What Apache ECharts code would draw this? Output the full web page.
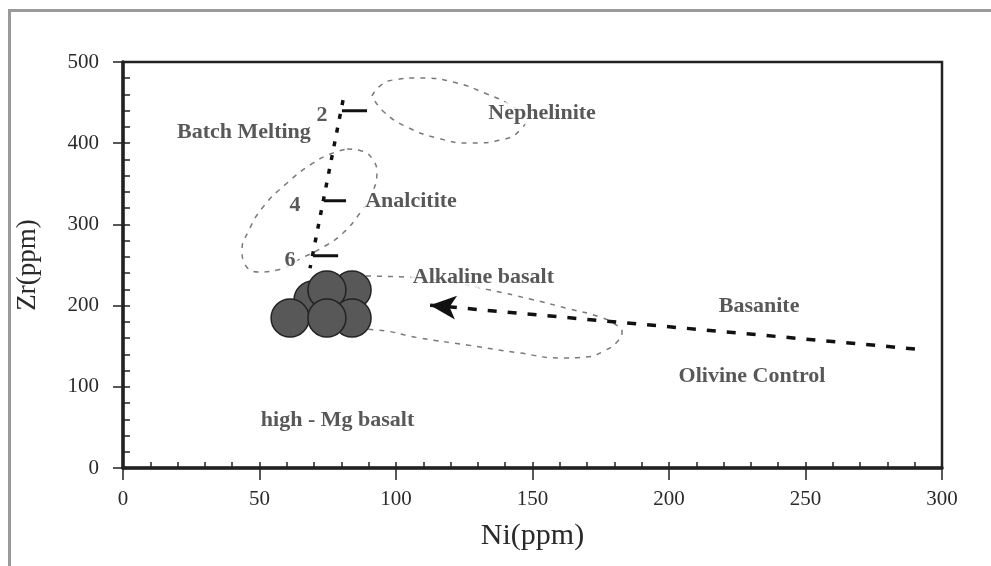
<!DOCTYPE html>
<html>
<head>
<meta charset="utf-8">
<script src="https://cdn.jsdelivr.net/npm/echarts@6/dist/echarts.min.js"></script>
<style>
  html, body { margin: 0; padding: 0; background: #fff; }
  #chart { width: 991px; height: 566px; }
</style>
</head>
<body>
<div id="chart"></div>
<script>
// ---- Data (Ni ppm, Zr ppm) ----
const xTicks = [0, 50, 100, 150, 200, 250, 300];
const yTicks = [0, 100, 200, 300, 400, 500];

// Batch melting trend (dotted)
const batchMeltingLine = [[80.6, 453], [68.5, 246]];
// Melting-degree ticks: [label, NiStart, NiEnd, Zr]
const meltTicks = [
  ['2', 80.2, 89.4, 440],
  ['4', 73.6, 81.7, 329],
  ['6', 69.6, 78.8, 261.5]
];

// Olivine control vector (from high Ni towards the basalt cluster)
const olivineLine = [[290.1, 146.6], [112.5, 200.5]];

// Field outlines (dashed)
const nephelinite = [[91.2,458.1],[94.1,470.4],[98.9,477.8],[108.8,480.3],[120.9,475.4],[133.3,460.6],[142.5,445.8],[147.6,431.0],[146.2,418.7],[139.9,405.2],[127.1,400.2],[115.0,406.4],[104.0,420.0],[95.6,438.4],[91.2,458.1]];
const analcitite = [[82.1,392.9],[87.5,390.4],[91.6,379.3],[93.0,363.3],[91.2,338.7],[86.8,314.0],[80.6,289.4],[74.0,273.4],[64.8,257.4],[56.4,243.8],[49.5,241.4],[44.3,253.7],[43.6,268.5],[45.8,290.6],[51.3,321.4],[60.1,351.0],[69.6,375.6],[76.9,387.9],[82.1,392.9]];
const alkalineBasalt = [[85.0,236.5],[103.3,235.2],[119.8,229.1],[134.4,219.2],[149.1,208.1],[163.7,195.8],[174.7,186.0],[180.2,177.3],[182.8,167.5],[181.3,156.4],[176.9,145.3],[169.6,136.7],[160.1,135.5],[145.4,141.6],[126.0,151.5],[108.8,160.1],[93.0,170.0],[85.0,171.2]];

// High-Mg basalt cluster (draw order: back to front)
const basaltCluster = [[69.6,206.9],[83.9,219.2],[74.7,219.2],[83.9,184.7],[61.2,184.7],[74.7,184.7]];

// Text annotations: [text, Ni, Zr]
const annotations = [
  ['Batch Melting', 44.3, 414],
  ['2', 72.9, 434.7],
  ['4', 63.0, 324],
  ['6', 61.2, 256],
  ['Nephelinite', 153.5, 437],
  ['Analcitite', 105.5, 329],
  ['Alkaline basalt', 132.0, 235],
  ['Basanite', 233.0, 199.5],
  ['Olivine Control', 230.4, 113],
  ['high - Mg basalt', 78.6, 59]
];

const FONT = 'Liberation Serif, "DejaVu Serif", serif';

const chart = echarts.init(document.getElementById('chart'), null, { renderer: 'canvas' });

const dashedField = (data, name) => ({
  type: 'line', name, data, smooth: 0.5, showSymbol: false, symbol: 'none',
  xAxisIndex: 0, yAxisIndex: 0, z: 2, silent: true,
  lineStyle: { color: '#7a7a7a', width: 1.5, type: [5, 6] }
});

const series = [
  dashedField(nephelinite, 'Nephelinite'),
  dashedField(analcitite, 'Analcitite'),
  dashedField(alkalineBasalt, 'Alkaline basalt'),
  {
    type: 'line', name: 'Batch Melting', data: batchMeltingLine, symbol: 'none', z: 4,
    lineStyle: { color: '#111', width: 3.5, type: [5, 9] }
  },
  ...meltTicks.map(t => ({
    type: 'line', name: 'tick ' + t[0], data: [[t[1], t[3]], [t[2], t[3]]], symbol: 'none', z: 4,
    lineStyle: { color: '#111', width: 3, type: 'solid' }
  })),
  {
    type: 'line', name: 'Olivine Control', z: 4,
    data: [
      { value: olivineLine[0], symbol: 'none' },
      { value: olivineLine[1], symbol: 'arrow', symbolSize: [18, 26], symbolRotate: 84.7 }
    ],
    showSymbol: true,
    itemStyle: { color: '#111' },
    lineStyle: { color: '#111', width: 3.5, type: [9, 11] }
  },
  {
    type: 'scatter', name: 'high-Mg basalt', data: basaltCluster, symbol: 'circle', symbolSize: 38, z: 5,
    itemStyle: { color: '#585858', borderColor: '#222', borderWidth: 1.5, opacity: 1 }
  },
  {
    type: 'scatter', name: 'labels', z: 10, symbolSize: 0, silent: true,
    data: annotations.map(a => ({ name: a[0], value: [a[1], a[2]] })),
    label: {
      show: true, position: 'inside', formatter: '{b}',
      fontFamily: FONT, fontSize: 22, fontWeight: 'bold', color: '#2e2e2e',
      backgroundColor: '#fff', padding: [0, 2]
    }
  }
];

const option = {
  animation: false,
  backgroundColor: '#fff',
  graphic: [{
    type: 'rect', left: 7, top: 8, z: -1,
    shape: { x: 0, y: 0, width: 1200, height: 700 },
    style: { fill: 'none', stroke: '#9a9a9a', lineWidth: 3 }
  }],
  grid: {
    left: 123, right: 49, top: 62, bottom: 98,
    show: true, borderColor: '#222', borderWidth: 2.5, backgroundColor: 'transparent'
  },
  xAxis: [
    {
      type: 'value', min: xTicks[0], max: xTicks[xTicks.length - 1], interval: 50, position: 'bottom',
      name: 'Ni(ppm)', nameLocation: 'middle', nameGap: 53,
      nameTextStyle: { fontFamily: FONT, fontSize: 30, color: '#2a2a2a' },
      axisLine: { show: true, onZero: false, lineStyle: { color: '#222', width: 3.5 } },
      axisTick: { show: true, length: 12, lineStyle: { color: '#222', width: 1.5 } },
      axisLabel: { margin: 21, fontFamily: FONT, fontSize: 21, color: '#2a2a2a' },
      splitLine: { show: false }
    },
    {
      type: 'value', min: 0, max: 300, interval: 10, position: 'bottom',
      axisLine: { show: false, onZero: false },
      axisTick: { show: true, inside: true, length: 6, lineStyle: { color: '#222', width: 1.5 } },
      axisLabel: { show: false },
      splitLine: { show: false }
    }
  ],
  yAxis: [
    {
      type: 'value', min: yTicks[0], max: yTicks[yTicks.length - 1], interval: 100, position: 'left',
      name: 'Zr(ppm)', nameLocation: 'middle', nameGap: 82, nameRotate: 90,
      nameTextStyle: { fontFamily: FONT, fontSize: 27, color: '#2a2a2a' },
      axisLine: { show: true, onZero: false, lineStyle: { color: '#222', width: 3.5 } },
      axisTick: { show: true, length: 10, lineStyle: { color: '#222', width: 1.5 } },
      axisLabel: { margin: 24, fontFamily: FONT, fontSize: 21, color: '#2a2a2a' },
      splitLine: { show: false }
    },
    {
      type: 'value', min: 0, max: 500, interval: 20, position: 'left',
      axisLine: { show: false, onZero: false },
      axisTick: { show: true, inside: true, length: 7, lineStyle: { color: '#222', width: 1.5 } },
      axisLabel: { show: false },
      splitLine: { show: false }
    }
  ],
  series
};

chart.setOption(option);
</script>
</body>
</html>
